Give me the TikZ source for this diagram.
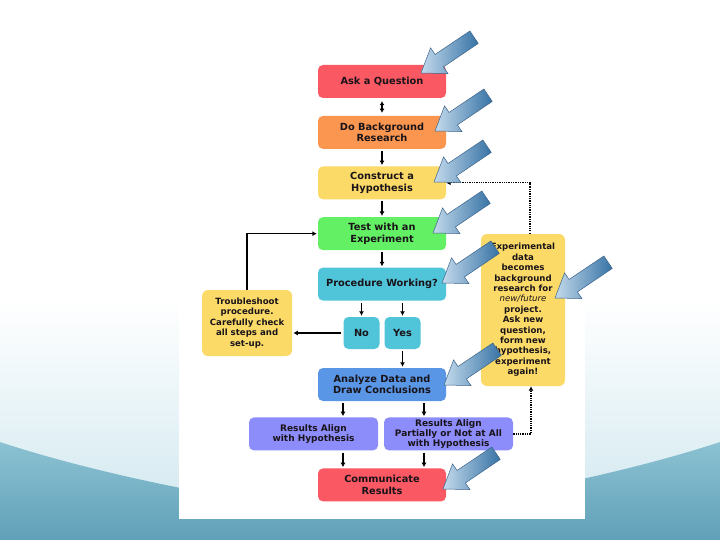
\documentclass[tikz,border=0pt]{standalone}
\usepackage{fontspec}
\setmainfont{DejaVu Sans}[BoldFont={DejaVu Sans Bold}, ItalicFont={DejaVu Sans Oblique}, BoldItalicFont={DejaVu Sans Bold Oblique}]
\usetikzlibrary{arrows.meta, positioning, calc}
\definecolor{colAsk}{RGB}{250,88,98}
\definecolor{colResearch}{RGB}{250,150,80}
\definecolor{colHypo}{RGB}{252,218,104}
\definecolor{colTest}{RGB}{100,240,100}
\definecolor{colProc}{RGB}{80,196,216}
\definecolor{colAnalyze}{RGB}{90,150,230}
\definecolor{colResult}{RGB}{140,140,250}
\definecolor{colText}{RGB}{25,20,25}
\definecolor{colTeal}{RGB}{96,160,184}
\definecolor{colTealMid}{RGB}{140,194,210}
\definecolor{colTealPale}{RGB}{205,230,238}
\definecolor{colArrowDark}{RGB}{55,115,165}
\definecolor{colArrowLight}{RGB}{195,218,236}
\definecolor{colArrowEdge}{RGB}{60,100,140}
\newcommand{\boxfont}{\fontsize{9.8}{11.5}\selectfont\bfseries}
\newcommand{\sidefont}{\fontsize{8.6}{10.4}\selectfont\bfseries}
\newcommand{\resfont}{\fontsize{9}{9.8}\selectfont\bfseries}
\tikzset{
    stepbox/.style={rectangle, rounded corners=5pt, minimum width=128pt,
        minimum height=33pt, inner sep=1.5pt, align=center, text=colText, font=\boxfont},
    choicebox/.style={stepbox, fill=colProc, minimum width=36pt, minimum height=32pt},
    resultbox/.style={stepbox, fill=colResult, minimum width=129pt, font=\resfont},
    sidebox/.style={rectangle, rounded corners=6pt, fill=colHypo, inner sep=1.5pt,
        align=center, text=colText, font=\sidefont},
    arrow/.style={-{Latex[length=4.5pt,width=5pt]}, line width=1.3pt, shorten <=2pt, shorten >=1pt},
    duoarrow/.style={{Latex[length=4pt,width=5pt]}-{Latex[length=4pt,width=5pt]}, line width=1.3pt, shorten <=3pt, shorten >=3pt},
    dotarrow/.style={-{Latex[length=4.5pt,width=5pt]}, line width=1.3pt, densely dotted},
    callarrow/.style={left color=colArrowLight, right color=colArrowDark, draw=colArrowEdge, line width=0.5pt}
}
\newcommand{\blueptr}[1]{\shade[callarrow, shift={(#1)}, rotate=34]
    (0,0) -- (22,15.5) -- (22,7.5) -- (64,7.5) -- (64,-7.5) -- (22,-7.5) -- (22,-15.5) -- cycle;}

\begin{document}
\begin{tikzpicture}[x=1pt, y=-1pt, node distance=17.5pt]
    \useasboundingbox (0,0) rectangle (720,540);

    % slide background
    \fill[white] (0,0) rectangle (720,540);
    \shade[top color=white, bottom color=colTealPale] (0,300) rectangle (720,540);
    \shade[top color=colTealMid, bottom color=colTeal] (0,442) .. controls (90,472) and (250,507) .. (360,512)
        .. controls (470,507) and (630,472) .. (720,442) -- (720,540) -- (0,540) -- cycle;
    \fill[white] (179,52) rectangle (585,519);

    \node[stepbox, fill=colAsk] (ask) at (382,81.5) {Ask a Question};
    \node[stepbox, fill=colResearch, below=of ask] (research) {Do Background\\Research};
    \node[stepbox, fill=colHypo, below=17pt of research] (hypo) {Construct a\\Hypothesis};
    \node[stepbox, fill=colTest, below=of hypo] (test) {Test with an\\Experiment};
    \node[stepbox, fill=colProc, below=17pt of test] (proc) {Procedure Working?};
    \node[choicebox, below=16pt of proc, xshift=-20.5pt] (no) {No};
    \node[choicebox, below=16pt of proc, xshift=20.5pt] (yes) {Yes};
    \node[stepbox, fill=colAnalyze, below=67pt of proc] (analyze) {Analyze Data and\\Draw Conclusions};
    \node[resultbox, below=16pt of analyze, xshift=-68.5pt] (alignyes) {Results Align\\with Hypothesis};
    \node[resultbox, below=16pt of analyze, xshift=66.5pt] (alignno) {Results Align\\Partially or Not at All\\with Hypothesis};
    \node[stepbox, fill=colAsk, below=67pt of analyze] (comm) {Communicate\\Results};

    \node[sidebox, minimum width=90pt, minimum height=66pt, left=51pt of no, yshift=10pt] (trouble)
        {Troubleshoot\\procedure.\\Carefully check\\all steps and\\set-up.};
    \node[sidebox, minimum width=84pt, minimum height=152pt] (expdata) at (523,310)
        {Experimental\\data\\becomes\\background\\research for\\{\mdseries\itshape new/future}\\project.\\Ask new\\question,\\form new\\hypothesis,\\experiment\\again!};

    \draw[duoarrow] (ask) -- (research);
    \draw[arrow] (research) -- (hypo);
    \draw[arrow] (hypo) -- (test);
    \draw[arrow] (test) -- (proc);
    \draw[arrow] (no.north |- proc.south) -- (no);
    \draw[arrow] (yes.north |- proc.south) -- (yes);
    \draw[arrow] (yes) -- (yes.south |- analyze.north);
    \draw[arrow] ([xshift=-39pt]analyze.south) -- ([xshift=-39pt]analyze.south |- alignyes.north);
    \draw[arrow] ([xshift=42pt]analyze.south) -- ([xshift=42pt]analyze.south |- alignno.north);
    \draw[arrow] ([xshift=-39pt]comm.north |- alignyes.south) -- ([xshift=-39pt]comm.north);
    \draw[arrow] ([xshift=42pt]comm.north |- alignno.south) -- ([xshift=42pt]comm.north);
    \draw[arrow] (no) -- (no -| trouble.east);
    \draw[arrow, shorten <=0pt] (trouble) |- (test);
    \draw[dotarrow] (alignno) -| ([xshift=8pt]expdata.south);
    \draw[dotarrow] ([xshift=7pt]expdata.north) |- (hypo);

    % pointers
    \blueptr{421,73}
    \blueptr{435,131}
    \blueptr{434,182}
    \blueptr{433,233}
    \blueptr{442,283}
    \blueptr{555,298}
    \blueptr{444,385}
    \blueptr{443,489}

\end{tikzpicture}
\end{document}
